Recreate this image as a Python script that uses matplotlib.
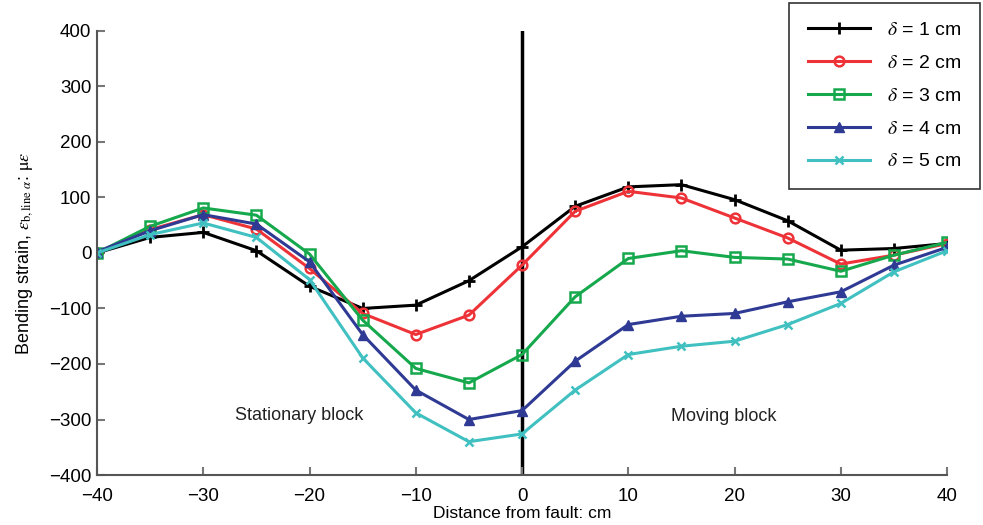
import numpy as np
import matplotlib
matplotlib.use("Agg")
import matplotlib.pyplot as plt

plt.rcParams['font.family'] = ['Liberation Sans', 'DejaVu Sans']
plt.rcParams['mathtext.fontset'] = 'stix'

# distance from fault (cm)
x = [-40, -35, -30, -25, -20, -15, -10, -5, 0, 5, 10, 15, 20, 25, 30, 35, 40]

# bending strain for each offset delta
d1 = [0, 28, 37, 4, -60, -100, -94, -50, 11, 84, 119, 123, 96, 58, 5, 8, 17]
d2 = [0, 42, 69, 43, -28, -109, -147, -112, -22, 75, 111, 99, 63, 27, -20, -4, 17]
d3 = [0, 48, 81, 68, -2, -121, -208, -234, -183, -79, -10, 4, -8, -11, -33, -4, 19]
d4 = [2, 40, 69, 52, -16, -147, -247, -300, -284, -195, -129, -114, -109, -88, -70, -22, 10]
d5 = [0, 33, 54, 28, -48, -189, -288, -340, -326, -247, -183, -168, -159, -129, -91, -34, 4]

labels = [r'$\delta$ = 1 cm', r'$\delta$ = 2 cm', r'$\delta$ = 3 cm',
          r'$\delta$ = 4 cm', r'$\delta$ = 5 cm']

fig = plt.figure(figsize=(9.83, 5.25), dpi=100)
ax = fig.add_axes([0.0987, 0.0952, 0.8647, 0.846])

ax.plot(x, d1, color='black', lw=2.2, marker='+', ms=8, mew=2, label=labels[0])
ax.plot(x, d2, color='#ee3338', lw=2.2, marker='o', ms=7, mfc='none', mew=1.8, label=labels[1])
ax.plot(x, d3, color='#16a84c', lw=2.2, marker='s', ms=6.5, mfc='none', mew=1.8, label=labels[2])
ax.plot(x, d4, color='#2e3a94', lw=2.2, marker='^', ms=7.5, label=labels[3])
ax.plot(x, d5, color='#40c0c0', lw=2.2, marker='x', ms=6, mew=1.8, label=labels[4])

ax.plot([0, 0], [-400, 400], color='black', lw=2.5, zorder=1)

ax.text(-21, -293, 'Stationary block', ha='center', va='center', fontsize=13, color='#222222')
ax.text(19, -295, 'Moving block', ha='center', va='center', fontsize=13, color='#222222')

ax.set_xlim(-40, 40)
ax.set_ylim(-400, 400)
ax.set_xticks(np.arange(-40, 41, 10))
ax.set_yticks(np.arange(-400, 401, 100))
ax.set_xticklabels([str(v).replace('-', '\u2212') for v in range(-40, 41, 10)])
ax.set_yticklabels([str(v).replace('-', '\u2212') for v in range(-400, 401, 100)])
ax.tick_params(direction='in', length=6, width=1.5, color='#777777', labelsize=13.5)
ax.tick_params(axis='x', pad=9)
ax.tick_params(axis='y', pad=4)

for s in ['top', 'right']:
    ax.spines[s].set_visible(False)
for s in ['left', 'bottom']:
    ax.spines[s].set_color('#555555')
    ax.spines[s].set_linewidth(1.5)

ax.set_xlabel('Distance from fault: cm', fontsize=12.5, labelpad=1)
ax.set_ylabel(r'Bending strain, $\varepsilon_{\mathrm{b,line}\ \alpha}$: $\mathrm{\mu}\varepsilon$',
              fontsize=13, labelpad=10)

leg = fig.legend(loc='upper right', bbox_to_anchor=(0.997, 0.994), borderaxespad=0,
                 fontsize=14, frameon=True, fancybox=False, edgecolor='black',
                 handlelength=3.2, labelspacing=0.78, borderpad=0.95, handletextpad=0.9)
leg.get_frame().set_linewidth(1.2)

fig.savefig('out.png', dpi=100)
